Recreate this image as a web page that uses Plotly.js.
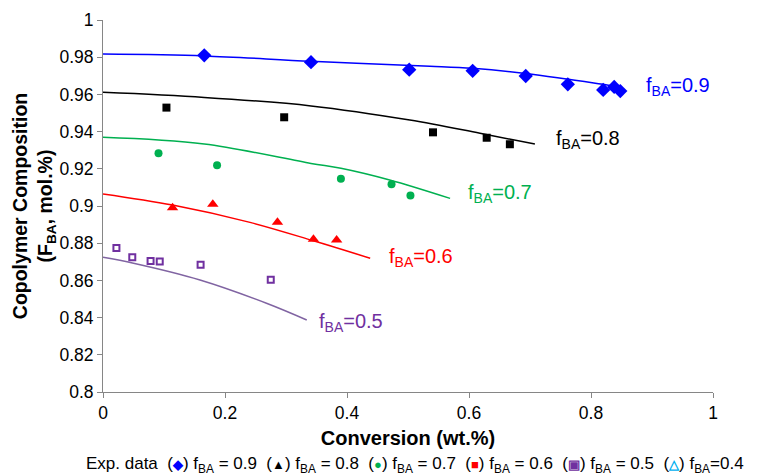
<!DOCTYPE html>
<html>
<head>
<meta charset="utf-8">
<script src="https://cdn.plot.ly/plotly-3.0.1.min.js"></script>
<style>html,body{margin:0;padding:0;background:#fff;}</style>
</head>
<body>
<div id="chart" style="width:763px;height:476px;"></div>
<script>
// Experimental data
const exp09_x = [0.166, 0.341, 0.502, 0.606, 0.693, 0.762, 0.820, 0.838, 0.848];
const exp09_y = [0.9810, 0.9773, 0.9733, 0.9727, 0.9699, 0.9654, 0.9624, 0.9640, 0.9618];
const exp08_x = [0.104, 0.297, 0.541, 0.629, 0.667];
const exp08_y = [0.9529, 0.9477, 0.9396, 0.9367, 0.9332];
const exp07_x = [0.091, 0.187, 0.390, 0.473, 0.504];
const exp07_y = [0.9283, 0.9219, 0.9147, 0.9117, 0.9057];
const exp06_x = [0.114, 0.180, 0.286, 0.345, 0.383];
const exp06_y = [0.8990, 0.9009, 0.8913, 0.8821, 0.8817];
const exp05_x = [0.022, 0.048, 0.078, 0.093, 0.160, 0.275];
const exp05_y = [0.8774, 0.8724, 0.8704, 0.8701, 0.8684, 0.8604];

// Model curves
const mod09_x = [0, 0.166, 0.341, 0.536, 0.606, 0.693, 0.760, 0.820, 0.850];
const mod09_y = [0.9817, 0.9807, 0.9778, 0.9752, 0.9740, 0.9713, 0.9683, 0.9654, 0.9634];
const mod08_x = [0, 0.166, 0.341, 0.503, 0.618, 0.708];
const mod08_y = [0.9611, 0.9584, 0.9538, 0.9462, 0.9391, 0.9333];
const mod07_x = [0, 0.166, 0.341, 0.390, 0.470, 0.569];
const mod07_y = [0.9369, 0.9333, 0.9229, 0.9203, 0.9140, 0.9041];
const mod06_x = [0, 0.114, 0.241, 0.345, 0.438];
const mod06_y = [0.9065, 0.9005, 0.8912, 0.8813, 0.8719];
const mod05_x = [0, 0.050, 0.159, 0.268, 0.334];
const mod05_y = [0.8724, 0.8692, 0.8602, 0.8477, 0.8387];

const curveLabels = ["f<sub>BA</sub>=0.9", "f<sub>BA</sub>=0.8", "f<sub>BA</sub>=0.7", "f<sub>BA</sub>=0.6", "f<sub>BA</sub>=0.5"];
const labelX = [0.887, 0.739, 0.595, 0.465, 0.350];
const labelY = [0.9640, 0.9360, 0.9065, 0.8725, 0.8375];
const colors = ["#0000FF", "#000000", "#00B050", "#FF0000", "#7030A0"];
const lineColors = ["#0000FF", "#000000", "#00B050", "#FF0000", "#8064A2"];

const xTicks = [0, 0.2, 0.4, 0.6, 0.8, 1];
const yTicks = [0.8, 0.82, 0.84, 0.86, 0.88, 0.9, 0.92, 0.94, 0.96, 0.98, 1];

const font = "Arial, 'Liberation Sans', sans-serif";

const modX = [mod09_x, mod08_x, mod07_x, mod06_x, mod05_x];
const modY = [mod09_y, mod08_y, mod07_y, mod06_y, mod05_y];
const traces = [];
for (let i = 0; i < 5; i++) {
  traces.push({x: modX[i], y: modY[i], mode: 'lines', type: 'scatter',
    line: {color: lineColors[i], width: 1.5, shape: 'spline'}, hoverinfo: 'skip'});
}
traces.push({x: exp09_x, y: exp09_y, mode: 'markers', type: 'scatter',
  marker: {symbol: 'diamond', size: 11, color: colors[0]}});
traces.push({x: exp08_x, y: exp08_y, mode: 'markers', type: 'scatter',
  marker: {symbol: 'square', size: 8, color: colors[1]}});
traces.push({x: exp07_x, y: exp07_y, mode: 'markers', type: 'scatter',
  marker: {symbol: 'circle', size: 8, color: colors[2]}});
traces.push({x: exp06_x, y: exp06_y, mode: 'markers', type: 'scatter',
  marker: {symbol: 'triangle-up', size: 10, color: colors[3]}});
traces.push({x: exp05_x, y: exp05_y, mode: 'markers', type: 'scatter',
  marker: {symbol: 'square-open', size: 6, color: colors[4], line: {width: 2, color: colors[4]}}});

const annotations = [];
for (let i = 0; i < 5; i++) {
  annotations.push({x: labelX[i], y: labelY[i], xref: 'x', yref: 'y', text: curveLabels[i],
    showarrow: false, xanchor: 'left', yanchor: 'middle',
    font: {family: font, size: 20, color: colors[i]}});
}
const sym = (c, s, fs) => `(<span style="color:${c};font-size:${fs}px;font-weight:bold">${s}</span>)`;
const legendText = "Exp. data&nbsp; " +
  sym("#0000FF", "◆", 13) + " f<sub>BA</sub> = 0.9&nbsp; " +
  sym("#000000", "▲", 13) + " f<sub>BA</sub> = 0.8&nbsp; " +
  sym("#00B050", "●", 13) + " f<sub>BA</sub> = 0.7&nbsp; " +
  sym("#FF0000", "■", 13) + " f<sub>BA</sub> = 0.6&nbsp; " +
  sym("#7030A0", "▣", 13) + " f<sub>BA</sub> = 0.5&nbsp; " +
  sym("#00B0F0", "△", 13) + " f<sub>BA</sub>=0.4";
annotations.push({x: 0.511, y: -0.196, xref: 'paper', yref: 'paper', text: legendText,
  showarrow: false, xanchor: 'center', yanchor: 'middle',
  font: {family: font, size: 17, color: '#000'}});

const layout = {
  width: 763, height: 476,
  margin: {l: 103, r: 50, t: 20, b: 84},
  paper_bgcolor: '#fff', plot_bgcolor: '#fff',
  showlegend: false,
  font: {family: font, size: 17.5, color: '#000'},
  xaxis: {range: [0, 1], tickvals: xTicks, ticktext: xTicks.map(String),
    showgrid: false, zeroline: false, showline: true, linecolor: '#868686', linewidth: 1,
    ticks: 'outside', ticklen: 5, tickcolor: '#868686',
    tickfont: {family: font, size: 17.5},
    title: {text: '<b>Conversion (wt.%)</b>', font: {family: font, size: 20}, standoff: 8}},
  yaxis: {range: [0.8, 1], tickvals: yTicks, ticktext: yTicks.map(String),
    showgrid: false, zeroline: false, showline: true, linecolor: '#868686', linewidth: 1,
    ticks: 'outside', ticklen: 5, tickcolor: '#868686',
    tickfont: {family: font, size: 17.5},
    title: {text: '<b>Copolymer Composition<br>(F<sub>BA</sub>, mol.%)</b>', font: {family: font, size: 19.5}, standoff: 0}},
  annotations: annotations
};
Plotly.newPlot('chart', traces, layout, {displayModeBar: false, staticPlot: true});
</script>
</body>
</html>
